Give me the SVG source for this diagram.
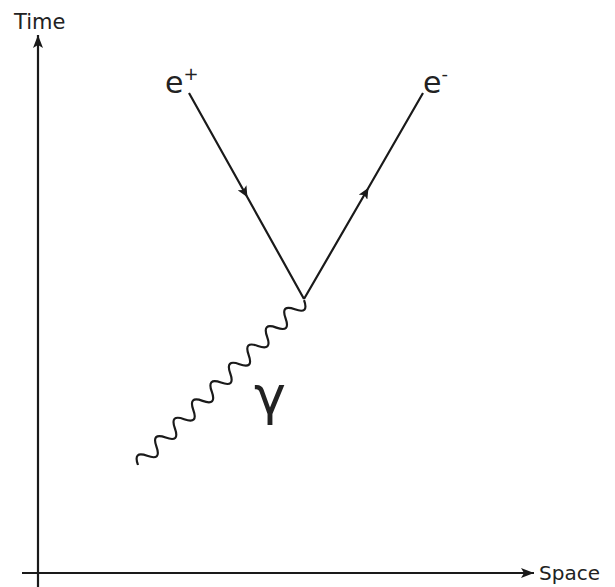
<svg xmlns="http://www.w3.org/2000/svg" width="615" height="587" viewBox="0 0 615 587">
<style>
.ln{fill:none;stroke:#1a1a1a;stroke-width:2.2}
.tx{font-family:"DejaVu Sans",sans-serif;fill:#222}
</style>
<defs>
<marker id="ax" markerUnits="userSpaceOnUse" markerWidth="14" markerHeight="10" refX="13" refY="5" orient="auto">
<path d="M0,0 L13,5 L0,10 L3,5 Z" fill="#1a1a1a"/>
</marker>
<marker id="mid" markerUnits="userSpaceOnUse" markerWidth="12" markerHeight="10" refX="6" refY="5" orient="auto">
<path d="M0,0 L11,5 L0,10 L2.5,5 Z" fill="#1a1a1a"/>
</marker>
</defs>
<rect width="615" height="587" fill="#fff"/>
<g id="connectors">
<path id="time-axis" class="ln" d="M38,587 L38,35" marker-end="url(#ax)"/>
<path id="space-axis" class="ln" d="M22,573 L534,573" marker-end="url(#ax)"/>
<path id="positron" class="ln" d="M189,93 L245,193 L304,299" marker-mid="url(#mid)"/>
<path id="electron" class="ln" d="M304,299 L366,192 L423,93" marker-mid="url(#mid)"/>
<path id="photon" class="ln" transform="translate(138,465) rotate(-44.8)" d="M0,0 q6.5,-14 13,0 t13,0 t13,0 t13,0 t13,0 t13,0 t13,0 t13,0 t13,0 t13,0 t13,0 t13,0 t13,0 t13,0 t13,0 t13,0 t13,0 t13,0"/>
</g>
<g id="label-time"><text class="tx" x="14" y="29" font-size="21">Time</text></g>
<g id="label-space"><text class="tx" x="539" y="580" font-size="20">Space</text></g>
<g id="label-positron"><text class="tx" x="165" y="93" font-size="30">e<tspan font-size="18" dy="-13">+</tspan></text></g>
<g id="label-electron"><text class="tx" x="423" y="93" font-size="30">e<tspan font-size="18" dy="-13">-</tspan></text></g>
<g id="label-gamma"><text class="tx" x="254" y="414" font-size="54">γ</text></g>
</svg>
